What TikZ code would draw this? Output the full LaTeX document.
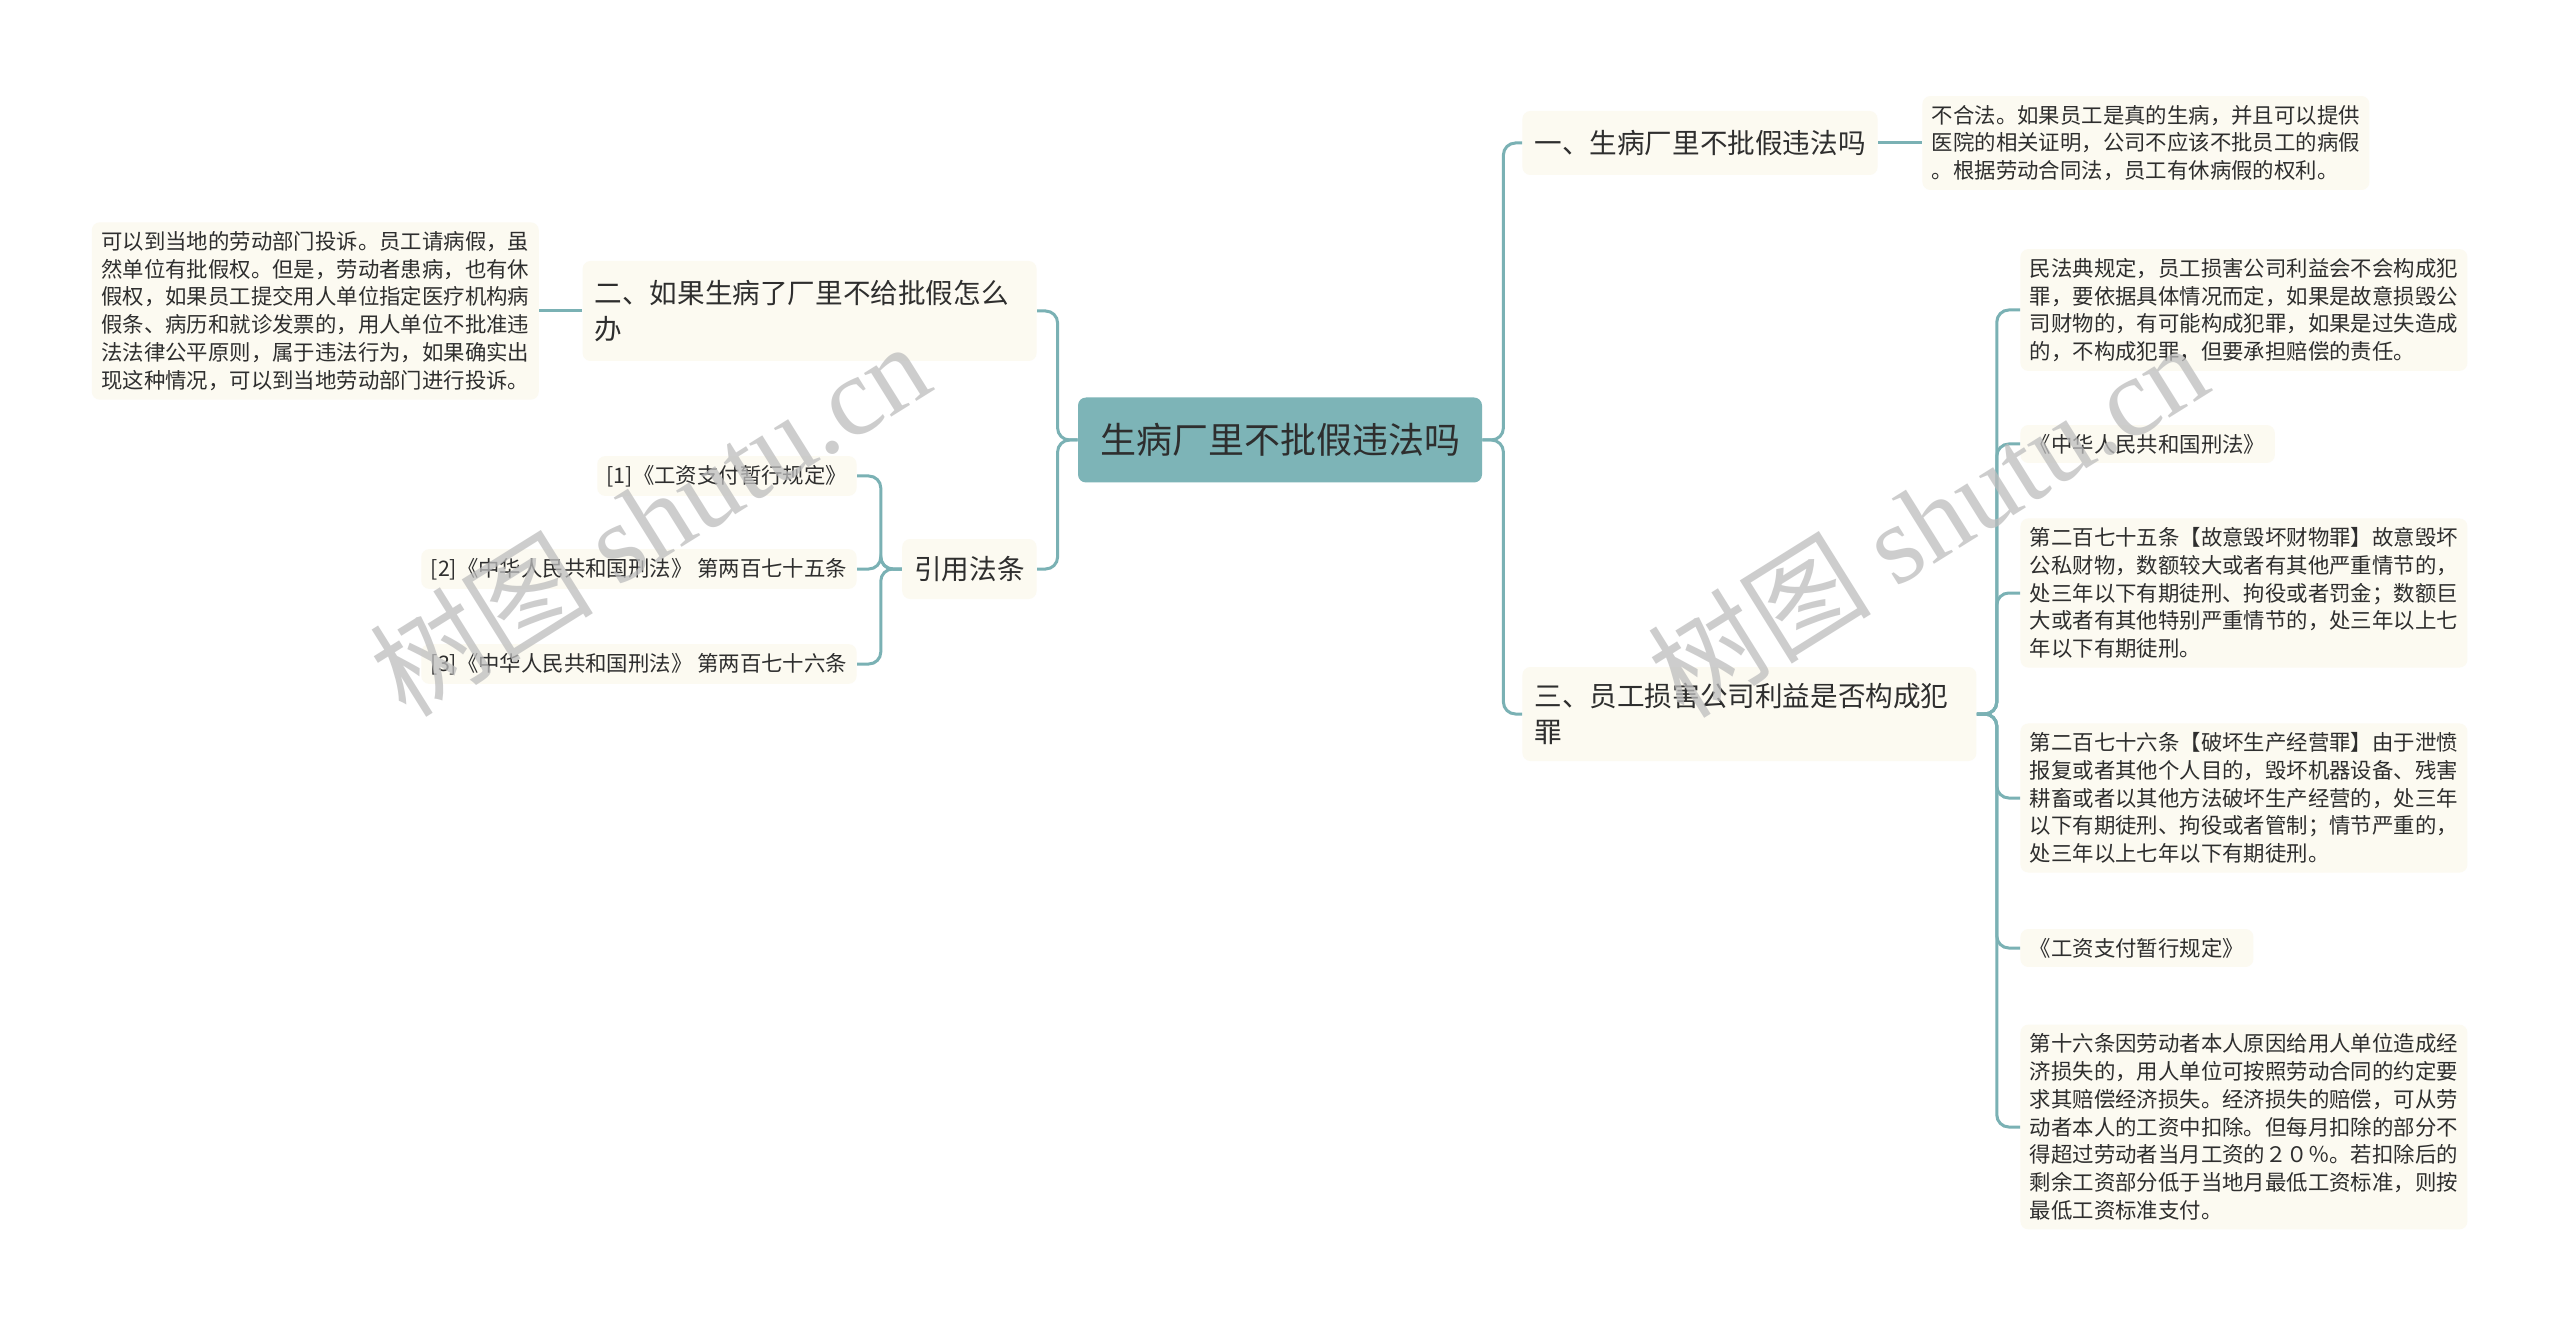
\documentclass[tikz,border=0pt]{standalone}
\usepackage{fontspec}
\setmainfont{Noto Sans CJK SC}
\newfontfamily\wmlatin{Liberation Serif}
\usetikzlibrary{positioning}
\definecolor{rootteal}{HTML}{7DB4B7}
\definecolor{linkteal}{HTML}{7AB1B4}
\definecolor{paper}{HTML}{FCFAF1}
\definecolor{ink}{HTML}{2E2E2E}
\definecolor{wmgray}{HTML}{BDBDBD}

\begin{document}
\begin{tikzpicture}[x=0.5pt, y=-0.5pt,
  root/.style={fill=rootteal, rounded corners=4pt, text=ink, font=\fontsize{18}{22}\selectfont,
    minimum width=202pt, minimum height=42.5pt, inner sep=0pt},
  topic/.style={fill=paper, rounded corners=4pt, text=ink, font=\fontsize{13.8}{18.3}\selectfont,
    align=left, inner xsep=6pt, inner ysep=0pt},
  leaf/.style={fill=paper, rounded corners=4pt, text=ink, font=\fontsize{10.7}{13.9}\selectfont,
    align=left, inner xsep=4.75pt, inner ysep=4.5pt},
  link/.style={draw=linkteal, line width=1.5pt, rounded corners=6pt},
  watermark/.style={text=wmgray, opacity=0.75, font=\fontsize{56}{60}\selectfont, rotate=32}]

% Background
\fill[white] (0,0) rectangle (2560,1326);

% Root
\node[root] (root) at (1280,440) {生病厂里不批假违法吗};

% Right topics
\node[topic, anchor=west, minimum height=32pt] (q1) at (1522,143) {一、生病厂里不批假违法吗};
\node[topic, anchor=west, minimum height=47pt, text width=215pt] (q3) at (1522,714)
  {三、员工损害公司利益是否构成犯\\罪};

% Left topics
\node[topic, anchor=east, minimum height=50pt, text width=215pt] (q2) at (1037,311)
  {二、如果生病了厂里不给批假怎么\\办};
\node[topic, anchor=east, minimum height=30pt] (refs) at (1037,569) {引用法条};

% Answers
\node[leaf, right=22pt of q1] (a1) {不合法。如果员工是真的生病，并且可以提供\\
  医院的相关证明，公司不应该不批员工的病假\\
  。根据劳动合同法，员工有休病假的权利。};
\node[leaf, left=21.5pt of q2] (a2) {可以到当地的劳动部门投诉。员工请病假，虽\\
  然单位有批假权。但是，劳动者患病，也有休\\
  假权，如果员工提交用人单位指定医疗机构病\\
  假条、病历和就诊发票的，用人单位不批准违\\
  法法律公平原则，属于违法行为，如果确实出\\
  现这种情况，可以到当地劳动部门进行投诉。};

% Cited laws
\node[leaf, anchor=east] (ref1) at (857,476) {[1]《工资支付暂行规定》};
\node[leaf, anchor=east] (ref2) at (857,569) {[2]《中华人民共和国刑法》 第两百七十五条};
\node[leaf, anchor=east] (ref3) at (857,664) {[3]《中华人民共和国刑法》 第两百七十六条};

% Details under topic three
\node[leaf, anchor=west] (law1) at (2020,310) {民法典规定，员工损害公司利益会不会构成犯\\
  罪，要依据具体情况而定，如果是故意损毁公\\
  司财物的，有可能构成犯罪，如果是过失造成\\
  的，不构成犯罪，但要承担赔偿的责任。};
\node[leaf, anchor=west] (law2) at (2020,444) {《中华人民共和国刑法》};
\node[leaf, anchor=west] (law3) at (2020,593) {第二百七十五条【故意毁坏财物罪】故意毁坏\\
  公私财物，数额较大或者有其他严重情节的，\\
  处三年以下有期徒刑、拘役或者罚金；数额巨\\
  大或者有其他特别严重情节的，处三年以上七\\
  年以下有期徒刑。};
\node[leaf, anchor=west] (law4) at (2020,798) {第二百七十六条【破坏生产经营罪】由于泄愤\\
  报复或者其他个人目的，毁坏机器设备、残害\\
  耕畜或者以其他方法破坏生产经营的，处三年\\
  以下有期徒刑、拘役或者管制；情节严重的，\\
  处三年以上七年以下有期徒刑。};
\node[leaf, anchor=west] (law5) at (2020,948) {《工资支付暂行规定》};
\node[leaf, anchor=west] (law6) at (2020,1127) {第十六条因劳动者本人原因给用人单位造成经\\
  济损失的，用人单位可按照劳动合同的约定要\\
  求其赔偿经济损失。经济损失的赔偿，可从劳\\
  动者本人的工资中扣除。但每月扣除的部分不\\
  得超过劳动者当月工资的２０％。若扣除后的\\
  剩余工资部分低于当地月最低工资标准，则按\\
  最低工资标准支付。};

% Connectors
\draw[link] (root.east) -- ++(21,0) |- (q1.west);
\draw[link] (root.east) -- ++(21,0) |- (q3.west);
\draw[link] (root.west) -- ++(-20,0) |- (q2.east);
\draw[link] (root.west) -- ++(-20,0) |- (refs.east);
\draw[link] (q1.east) -- (a1.west);
\draw[link] (q2.west) -- (a2.east);
\foreach \r in {ref1,ref2,ref3}
  \draw[link] (refs.west) -- ++(-21,0) |- (\r.east);
\foreach \l in {law1,law2,law3,law4,law5,law6}
  \draw[link] (q3.east) -- ++(20,0) |- (\l.west);

% Watermarks
\node[watermark] (wmleft) at (649,518) {树图 {\wmlatin shutu.cn}};
\node[watermark] (wmright) at (1927,519) {树图 {\wmlatin shutu.cn}};

\end{tikzpicture}
\end{document}
